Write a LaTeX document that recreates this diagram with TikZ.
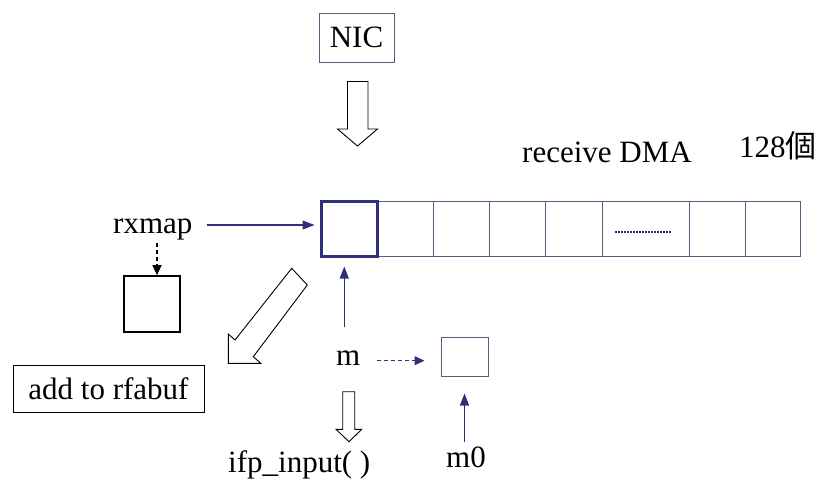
\documentclass[tikz,border=0pt]{standalone}
\usepackage{fontspec}
\newfontfamily\tnrfont{LiberationSerif}[Extension=.ttf, UprightFont=*-Regular]
\newfontfamily\cjkfont{Noto Sans CJK TC}
\usetikzlibrary{arrows.meta}
\definecolor{navy}{RGB}{46,49,120}
\definecolor{boxline}{RGB}{88,90,128}

\begin{document}
\begin{tikzpicture}[x=1pt,y=-1pt,
  lbl/.style={font=\tnrfont\fontsize{31}{36}\selectfont, inner sep=0pt},
  boxnode/.style={rectangle, inner sep=0pt},
  navyarrow/.style={draw=navy, line width=1.2pt, -{Triangle[length=12pt,width=9pt]}},
  dasharrow/.style={line width=1.1pt, dash pattern=on 4pt off 3pt, -{Triangle[length=10pt,width=9pt]}},
  hollow/.style={draw=black, line width=0.9pt, fill=white, line join=miter},
  cellline/.style={draw=boxline, line width=0.9pt},
]
\useasboundingbox (0,0) rectangle (819,483);

% NIC and its hollow arrow
\node[boxnode, draw=boxline, line width=1pt, minimum width=75pt, minimum height=49pt, lbl] (nic) at (356.5,37.5) {NIC};
\draw[hollow] (347.5,81.5) -- (368,81.5) -- (368,129) -- (377.5,129) -- (357.5,146)
  -- (337.5,129) -- (347.5,129) -- cycle;

% receive DMA ring
\node[lbl, anchor=base west] (dma) at (522,162) {receive DMA};
\node[lbl, anchor=base west] (count) at (739,157) {128{\cjkfont 個}};
\node[boxnode, cellline, minimum width=479pt, minimum height=55pt] (ring) at (560.5,228.5) {};
\foreach \x in {433,489,545,602,689,745}
  \draw[cellline] (\x,201) -- (\x,256);
\draw[navy, line width=1.2pt, dash pattern=on 1.5pt off 1.5pt] (615,232) -- (672,232);
\node[boxnode, draw=navy, line width=3pt, minimum width=56pt, minimum height=55pt] (cell0) at (349,228.5) {};

% rxmap
\node[lbl, anchor=base west] (rxmap) at (113,233) {rxmap};
\node[boxnode, draw=black, line width=1.6pt, minimum width=56pt, minimum height=56pt] (mapbox) at (152,304) {};
\draw[navyarrow, shorten <=14pt, shorten >=5pt]
  ([yshift=4pt]rxmap.east) -- ([yshift=4pt]rxmap.east -| cell0.west);
\draw[dasharrow, shorten <=3pt]
  ([xshift=5pt]mapbox.north |- rxmap.south) -- ([xshift=5pt]mapbox.north);

% add to rfabuf and the diagonal hollow arrow
\node[boxnode, draw=black, line width=1pt, minimum width=191pt, minimum height=47pt, lbl] (rfabuf) at (108.5,388.5) {add to rfabuf};
\draw[hollow] (291.7,268.3) -- (307.3,285) -- (253.3,356.7) -- (260.7,363.3)
  -- (228.3,363.3) -- (228.3,334) -- (235,340) -- cycle;

% m, m0 and their buffers
\node[lbl, anchor=base west] (m) at (336,365) {m};
\node[boxnode, draw=boxline, line width=1pt, minimum width=47pt, minimum height=39pt] (mbox) at (464.5,356.5) {};
\node[lbl, anchor=base west] (m0) at (446,467) {m0};
\draw[navyarrow, shorten <=23pt, shorten >=9pt]
  ([xshift=-4pt]m.north) -- ([xshift=-4pt]m.north |- cell0.south);
\draw[dasharrow, draw=navy, shorten <=16pt, shorten >=16pt]
  ([yshift=-3pt]m.east) -- ([yshift=-3pt]m.east -| mbox.west);
\draw[navyarrow, shorten <=4pt, shorten >=17pt]
  (m0.north -| mbox.south) -- (mbox.south);

% ifp_input
\node[lbl, anchor=base west] (ifp) at (228,472) {ifp\_input( )};
\draw[hollow] (342.7,391.7) -- (354.7,391.7) -- (354.7,429.3) -- (361.7,429.3) -- (349,441.7)
  -- (336,429.3) -- (342.7,429.3) -- cycle;
\end{tikzpicture}
\end{document}
